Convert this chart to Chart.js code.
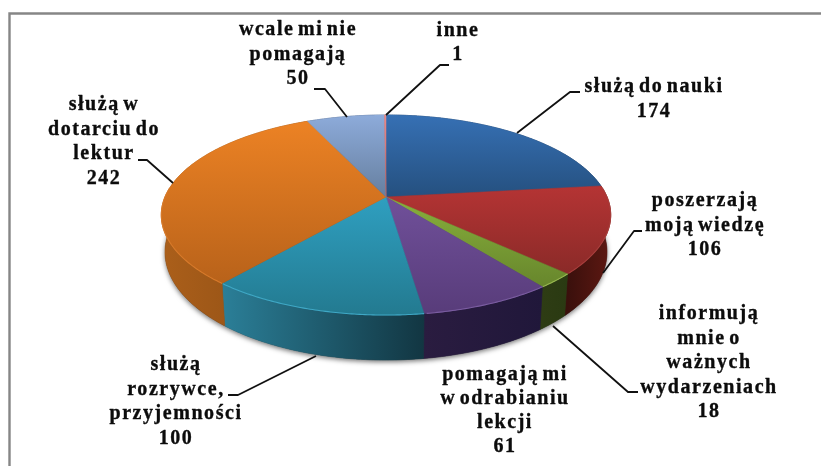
<!DOCTYPE html>
<html><head><meta charset="utf-8">
<style>html,body{margin:0;padding:0;background:#fff}canvas{display:block}</style>
<script src="https://cdn.jsdelivr.net/npm/chart.js@4"></script>
</head><body><canvas id="c" width="821" height="466"></canvas>
<script>
// ---- data ----
const categories = ['służą do nauki','poszerzają moją wiedzę','informują mnie o ważnych wydarzeniach','pomagają mi w odrabianiu lekcji','służą rozrywce, przyjemności','służą w dotarciu do lektur','wcale mi nie pomagają','inne'];
const values = [174,106,18,61,100,242,50,1];
const topColors = ['#3670b4','#b53434','#88b03c','#70509a','#2f9fc0','#ec8224','#8dabda','#e88a8a'];
const bottomColors = ['#25507f','#8a2a28','#67862c','#583c7a','#237a90','#b8621a','#667f9f','#c06060'];
const rimColors = ['#4a80c0','#a83e3c','#98b850','#7a5ca0','#3fa8c6','#d87a2a','#9ab4dc','#e88a8a'];
const wallLeft = ['#1d3c60','#3a100c','#2e3c14','#2a1c40','#2b7f98','#ab5f1a','#4a5f80','#804040'];
const wallRight = ['#1d3c60','#5e1812','#2a3a12','#20173a','#123642','#8a4c14','#4a5f80','#804040'];
const labelLines = [['służą do nauki','174'],['poszerzają','moją wiedzę','106'],['informują','mnie o','ważnych','wydarzeniach','18'],['pomagają mi','w odrabianiu','lekcji','61'],['służą','rozrywce,','przyjemności','100'],['służą w','dotarciu do','lektur','242'],['wcale mi nie','pomagają','50'],['inne','1']];
// ---- layout ----
const labelCx = [654,705,709,505,176,104,298,458];
const labelTop = [92,206,319,380,370,110,35,36];
const labelStep = [25,24.5,24.5,24,24.7,24.7,24.5,24];
const leaders = [
 [[517,133],[570,92],[580,92]],
 [[603,273],[634,231],[642,231]],
 [[553,326],[628,392],[638,392]],
 null,
 [[316,356],[238,395],[228,395]],
 [[173,183],[147,160],[138,160]],
 [[347,117],[325,89],[314,89]],
 [[386,115],[440,65],[449,65]]
];
const G = {cx:386, cy:197, R:221, H:96.8, k:0.18};
const L = {cx:386, cy:232.6, R:217.4, H:104.5, k:0.18};

function project(a, low){
  const P=low?L:G, u=Math.sin(a), v=Math.cos(a), w=1+P.k*v;
  return [P.cx+P.R*u/w, P.cy-P.H*v/w];
}
function rimPoints(a0,a1,low){
  const n=Math.max(2,Math.ceil((a1-a0)/0.01)), pts=[];
  for(let i=0;i<=n;i++) pts.push(project(a0+(a1-a0)*i/n,low));
  return pts;
}
const { PieController, ArcElement } = Chart;
class Arc3D extends ArcElement {
  static id='arc3d';
  static defaults = ArcElement.defaults;
  angles(){ return [this.startAngle+Math.PI/2, this.endAngle+Math.PI/2]; }
  drawWall(ctx,i){
    const [a0,a1]=this.angles();
    const top=rimPoints(a0,a1,false), low=rimPoints(a0,a1,true);
    const xs=top.map(p=>p[0]);
    const g=ctx.createLinearGradient(Math.min(...xs),0,Math.max(...xs)+0.1,0);
    g.addColorStop(0,wallLeft[i]); g.addColorStop(1,wallRight[i]);
    ctx.beginPath();
    top.forEach((p,j)=>j?ctx.lineTo(p[0],p[1]):ctx.moveTo(p[0],p[1]));
    low.reverse().forEach(p=>ctx.lineTo(p[0],p[1]));
    ctx.closePath();
    ctx.fillStyle=g; ctx.fill();
    ctx.strokeStyle=g; ctx.lineWidth=0.6; ctx.stroke();
  }
  draw(ctx){
    const i=this.$context.index;
    const [a0,a1]=this.angles();
    const pts=rimPoints(a0,a1,false);
    const ys=pts.map(p=>p[1]).concat(G.cy);
    const g=ctx.createLinearGradient(0,Math.min(...ys),0,Math.max(...ys)+0.1);
    g.addColorStop(0,topColors[i]); g.addColorStop(1,bottomColors[i]);
    ctx.beginPath(); ctx.moveTo(G.cx,G.cy);
    pts.forEach(p=>ctx.lineTo(p[0],p[1]));
    ctx.closePath();
    ctx.fillStyle=g; ctx.fill();
    ctx.strokeStyle=g; ctx.lineWidth=0.5; ctx.stroke();
    const front=[];
    for(let a=a0;a<=a1;a+=0.01){ if(Math.cos(a)<0.1) front.push(project(a,false)); }
    if(front.length>1){
      ctx.beginPath();
      front.forEach((p,j)=>j?ctx.lineTo(p[0],p[1]):ctx.moveTo(p[0],p[1]));
      ctx.strokeStyle=rimColors[i]; ctx.lineWidth=1.1; ctx.stroke();
    }
  }
}
class Pie3DController extends PieController {
  static id='pie3d';
  static defaults={dataElementType:'arc3d'};
  static overrides=PieController.overrides;
  draw(){
    const ctx=this.chart.ctx, arcs=this._cachedMeta.data;
    ctx.save();
    ctx.shadowColor='rgba(0,0,0,0.55)'; ctx.shadowBlur=5; ctx.shadowOffsetY=2;
    const low=rimPoints(0,Math.PI*2,true);
    ctx.beginPath(); low.forEach((p,j)=>j?ctx.lineTo(p[0],p[1]):ctx.moveTo(p[0],p[1])); ctx.closePath();
    ctx.fillStyle='#333'; ctx.fill();
    ctx.restore();
    arcs.forEach((a,i)=>a.drawWall(ctx,i));
    arcs.forEach(a=>a.draw(ctx));
  }
}
Chart.register(Pie3DController,Arc3D);

const framePlugin={id:'frame',beforeDraw(ch){
  const c=ch.ctx; c.save();
  c.fillStyle='#fff'; c.fillRect(0,0,821,466);
  c.strokeStyle='#868686'; c.lineWidth=2.4;
  c.beginPath(); c.moveTo(9.5,466); c.lineTo(9.5,13.5); c.lineTo(821,13.5); c.stroke();
  c.restore();
}};
const labelPlugin={id:'labels3d',afterDatasetsDraw(ch){
  const c=ch.ctx; c.save();
  c.strokeStyle='#111'; c.lineWidth=1.8; c.lineJoin='round';
  leaders.forEach(l=>{ if(!l)return; c.beginPath(); l.forEach((p,j)=>j?c.lineTo(p[0],p[1]):c.moveTo(p[0],p[1])); c.stroke(); });
  c.filter='blur(0.35px)';
  c.fillStyle='#0c0c0c'; c.strokeStyle='#0c0c0c'; c.lineWidth=0.35;
  c.textAlign='center'; c.textBaseline='alphabetic';
  c.font='bold 20px "Liberation Serif"';
  c.letterSpacing='1.55px'; c.wordSpacing='-3px';
  labelLines.forEach((lines,i)=>lines.forEach((t,j)=>{
    const x=labelCx[i], y=labelTop[i]+labelStep[i]*j;
    c.fillText(t,x,y); c.strokeText(t,x,y);
  }));
  c.restore();
}};
new Chart(document.getElementById('c'),{
  type:'pie3d',
  data:{labels:categories,datasets:[{data:values,backgroundColor:topColors,borderWidth:0}]},
  options:{responsive:false,animation:false,events:[],plugins:{legend:{display:false},tooltip:{enabled:false}}},
  plugins:[framePlugin,labelPlugin]
});
</script></body></html>
